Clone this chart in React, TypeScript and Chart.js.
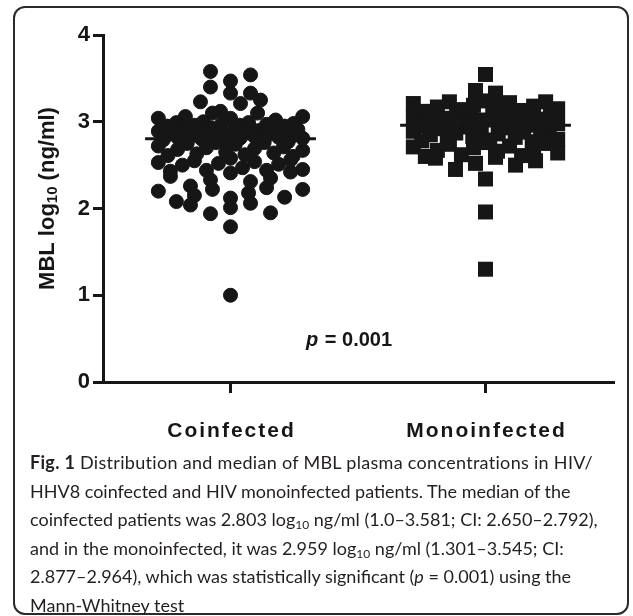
import React, { useEffect, useRef } from "react";
import { Chart, registerables } from "chart.js";

Chart.register(...registerables);

// ---------- data ----------
const categories = ["Coinfected", "Monoinfected"];

const coinfectedValues = [
  3.58, 3.54, 3.47, 3.4, 3.33, 3.33, 3.25, 3.23, 3.21, 3.12, 3.1, 3.1, 3.06, 3.06, 3.04, 3.04, 3.02,
  3.0, 2.99, 2.99, 2.98, 2.97, 2.97, 2.96, 2.96, 2.95, 2.95,
  2.94, 2.94, 2.93, 2.93, 2.92, 2.92, 2.91, 2.9, 2.9, 2.89, 2.89, 2.88,
  2.87, 2.87, 2.86, 2.86, 2.85, 2.85, 2.84, 2.84, 2.83, 2.83, 2.82, 2.82,
  2.81, 2.81, 2.8, 2.8, 2.79, 2.78, 2.77, 2.76, 2.76,
  2.75, 2.74, 2.72, 2.71, 2.7, 2.69, 2.68,
  2.67, 2.65, 2.64, 2.63, 2.62, 2.61, 2.6,
  2.58, 2.56, 2.55, 2.54, 2.53, 2.52, 2.51, 2.5,
  2.47, 2.45, 2.44, 2.44, 2.43, 2.42, 2.41,
  2.37, 2.35, 2.33, 2.31,
  2.26, 2.24, 2.22, 2.22, 2.2, 2.18,
  2.15, 2.13, 2.12,
  2.08, 2.06, 2.04, 2.01,
  1.95, 1.94, 1.79, 1.0,
];

const monoinfectedValues = [
  3.545, 3.36, 3.33, 3.24, 3.23, 3.23, 3.22, 3.21, 3.19, 3.18, 3.17, 3.17, 3.15, 3.14, 3.13, 3.12, 3.11, 3.1,
  3.09, 3.08, 3.07, 3.06, 3.05, 3.05, 3.04, 3.03, 3.02, 3.01, 3.0,
  2.99, 2.98, 2.97, 2.97, 2.96, 2.96, 2.95, 2.95, 2.94, 2.93, 2.92, 2.91, 2.9,
  2.89, 2.88, 2.87, 2.86, 2.85, 2.84, 2.83, 2.82, 2.81, 2.8,
  2.79, 2.78, 2.77, 2.76, 2.75, 2.74, 2.72, 2.71, 2.7,
  2.68, 2.67, 2.66, 2.64, 2.62, 2.61, 2.6,
  2.59, 2.58, 2.55, 2.52, 2.5,
  2.45, 2.34, 1.96, 1.3,
];

const medians = [2.803, 2.959];
const yTickValues = [0, 1, 2, 3, 4];
const pValue = "0.001";

// ---------- layout helpers ----------
const FONT = "'Liberation Sans', Arial, Helvetica, sans-serif";
const INK = "#161616";

const frac = (v: number) => v - Math.floor(v);

// Prism-like binned scatter: rows one symbol tall, spread symmetrically around the category;
// values inside a row are interleaved across the row with a golden-ratio ordering.
function swarm(values: number[], center: number) {
  const BIN = 0.173;
  const STEP = 0.0785;
  const HALF = 0.283;
  const bins = new Map<number, number[]>();
  values.forEach((v) => {
    const k = Math.floor(v / BIN + 1e-9);
    if (!bins.has(k)) bins.set(k, []);
    bins.get(k)!.push(v);
  });
  const pts: { x: number; y: number }[] = [];
  bins.forEach((list) => {
    list.sort((a, b) => b - a);
    const n = list.length;
    const step = n > 1 ? Math.min(STEP, (2 * HALF) / (n - 1)) : 0;
    const slots = Array.from({ length: n }, (_, i) => (i - (n - 1) / 2) * step);
    const perm = Array.from({ length: n }, (_, i) => i).sort(
      (a, b) => frac(a * 0.618034 + 0.3) - frac(b * 0.618034 + 0.3)
    );
    list.forEach((v, r) => pts.push({ x: center + slots[perm[r]], y: v }));
  });
  return pts;
}

const MEDIAN_HALF = 0.335;

const textPlugin = {
  id: "figureText",
  afterDraw(chart: any) {
    const ctx = chart.ctx as CanvasRenderingContext2D;
    const xs = chart.scales.x;
    const ys = chart.scales.y;
    ctx.save();
    ctx.fillStyle = INK;

    // x category labels (letter-spaced, bold)
    ctx.font = `bold 21px ${FONT}`;
    (ctx as any).letterSpacing = "2px";
    ctx.textAlign = "center";
    ctx.textBaseline = "middle";
    categories.forEach((c, i) => {
      ctx.fillText(c, xs.getPixelForValue(i) + 1, 431);
    });
    (ctx as any).letterSpacing = "0px";

    // p value
    ctx.textAlign = "left";
    ctx.font = `italic bold 20px ${FONT}`;
    const px = 306;
    const py = 340;
    ctx.fillText("p", px, py);
    const pw = ctx.measureText("p").width;
    ctx.font = `bold 20px ${FONT}`;
    ctx.fillText(" = " + pValue, px + pw + 1, py);

    // y title with subscript
    const big = `bold 22px ${FONT}`;
    const small = `bold 15px ${FONT}`;
    const parts = [
      { t: "MBL log", f: big, dy: 0 },
      { t: "10", f: small, dy: 5 },
      { t: " (ng/ml)", f: big, dy: 0 },
    ];
    let total = 0;
    parts.forEach((p) => {
      ctx.font = p.f;
      total += ctx.measureText(p.t).width;
    });
    const cy = (ys.top + ys.bottom) / 2 - 10;
    ctx.translate(48, cy);
    ctx.rotate(-Math.PI / 2);
    let x = -total / 2;
    parts.forEach((p) => {
      ctx.font = p.f;
      ctx.fillText(p.t, x, p.dy);
      x += ctx.measureText(p.t).width;
    });
    ctx.restore();
  },
};

export default function App() {
  const ref = useRef<HTMLCanvasElement | null>(null);

  useEffect(() => {
    if (!ref.current) return;
    const chart = new Chart(ref.current, {
      type: "scatter",
      data: {
        datasets: [
          {
            type: "line",
            label: "median coinfected",
            data: [
              { x: 0 - MEDIAN_HALF, y: medians[0] },
              { x: 0 + MEDIAN_HALF, y: medians[0] },
            ],
            borderColor: INK,
            borderWidth: 3,
            pointRadius: 0,
            order: 3,
          } as any,
          {
            type: "line",
            label: "median monoinfected",
            data: [
              { x: 1 - MEDIAN_HALF, y: medians[1] },
              { x: 1 + MEDIAN_HALF, y: medians[1] },
            ],
            borderColor: INK,
            borderWidth: 3,
            pointRadius: 0,
            order: 3,
          } as any,
          {
            label: categories[0],
            data: swarm(coinfectedValues, 0),
            pointStyle: "circle",
            pointRadius: 7,
            backgroundColor: INK,
            borderColor: INK,
            borderWidth: 1,
            order: 1,
          },
          {
            label: categories[1],
            data: swarm(monoinfectedValues, 1),
            pointStyle: "rect",
            pointRadius: 10.6,
            backgroundColor: INK,
            borderColor: INK,
            borderWidth: 0,
            order: 2,
          },
        ],
      },
      options: {
        animation: false,
        responsive: false,
        devicePixelRatio: 1,
        layout: { padding: { left: 0, right: 20, top: 35, bottom: 28 } },
        plugins: {
          legend: { display: false },
          tooltip: { enabled: false },
          title: { display: false },
        },
        scales: {
          x: {
            type: "linear",
            min: -0.5,
            max: 1.5,
            afterBuildTicks: (s: any) => {
              s.ticks = categories.map((_, i) => ({ value: i }));
            },
            afterFit: (s: any) => {
              s.height = 40;
            },
            ticks: { display: false },
            grid: {
              drawOnChartArea: false,
              drawTicks: true,
              tickLength: 11,
              color: INK,
              lineWidth: 3,
            },
            border: { display: true, color: INK, width: 3 },
          },
          y: {
            min: 0,
            max: 4,
            afterBuildTicks: (s: any) => {
              s.ticks = yTickValues.map((v) => ({ value: v }));
            },
            afterFit: (s: any) => {
              s.width = 103;
            },
            ticks: {
              color: INK,
              padding: 3,
              font: { family: FONT, size: 22, weight: "bold" },
            },
            grid: {
              drawOnChartArea: false,
              drawTicks: true,
              tickLength: 10,
              color: INK,
              lineWidth: 3,
            },
            border: { display: true, color: INK, width: 3 },
          },
        },
      },
      plugins: [textPlugin],
    });
    return () => chart.destroy();
  }, []);

  const sub = (
    <span style={{ fontSize: 12, verticalAlign: -3, lineHeight: 0 }}>10</span>
  );

  return (
    <div
      style={{
        position: "absolute",
        left: 0,
        top: 0,
        width: 633,
        height: 616,
        background: "#fff",
        overflow: "hidden",
      }}
    >
      <div
        style={{
          position: "absolute",
          left: 13,
          top: 6,
          width: 616,
          height: 609,
          border: "2px solid #2a2a2a",
          borderRadius: 12,
          boxSizing: "border-box",
        }}
      />
      <canvas
        ref={ref}
        width={633}
        height={450}
        style={{ position: "absolute", left: 0, top: 0, width: 633, height: 450 }}
      />
      <div
        style={{
          position: "absolute",
          left: 30,
          top: 448,
          width: 600,
          fontFamily: "Lato, 'Open Sans', sans-serif",
          fontSize: 18,
          lineHeight: "28.6px",
          color: "#231f20",
          whiteSpace: "nowrap",
        }}
      >
        <div style={{ letterSpacing: "0.3px" }}>
          <b>Fig. 1</b> Distribution and median of MBL plasma concentrations in HIV/
        </div>
        <div>HHV8 coinfected and HIV monoinfected patients. The median of the</div>
        <div>
          coinfected patients was 2.803 log{sub} ng/ml (1.0–3.581; CI: 2.650–2.792),
        </div>
        <div>
          and in the monoinfected, it was 2.959 log{sub} ng/ml (1.301–3.545; CI:
        </div>
        <div>
          2.877–2.964), which was statistically significant (<i>p</i> = 0.001) using the
        </div>
        <div>Mann-Whitney test</div>
      </div>
    </div>
  );
}
